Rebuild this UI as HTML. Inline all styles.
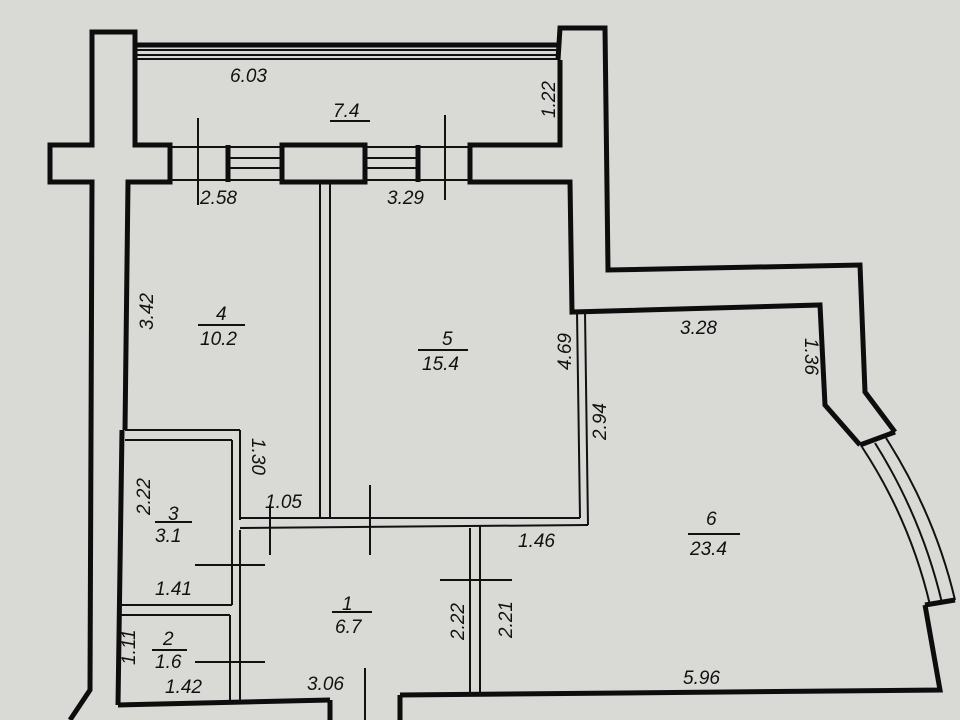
<!DOCTYPE html>
<html><head><meta charset="utf-8"><style>
html,body{margin:0;padding:0;background:#d9d9d6;}
svg{display:block}
text{font-family:"Liberation Sans",sans-serif;font-style:italic;fill:#111;font-size:19px}
</style></head><body>
<svg width="960" height="720" viewBox="0 0 960 720">
<rect width="960" height="720" fill="#d9d9d6"/>
<g fill="none" stroke="#0d0d0d" stroke-width="5" stroke-linejoin="miter">
<polyline points="70,720 90,690 92,182 50,182 50,145 92,145 92,32 135,32 135,145 170,145 170,182 128,182 125,430"/>
<line x1="122" y1="430" x2="118" y2="705"/>
<line x1="135" y1="45" x2="558" y2="45"/>
<polyline points="558,60 560,28 605,28 608,270 860,265 865,392 895,432"/>
<polyline points="560,60 560,145 470,145 470,182 570,182 572,312 820,305 825,405 860,445"/>
<rect x="282" y="145" width="83" height="37"/>
<polyline points="925,605 940,690 400,695"/>
<line x1="860" y1="445" x2="895" y2="432"/>
<line x1="925" y1="605" x2="955" y2="600"/>
<polyline points="118,705 330,700"/>
<line x1="330" y1="700" x2="330" y2="720"/>
<line x1="400" y1="695" x2="400" y2="720"/>
<line x1="228" y1="145" x2="228" y2="182" />
<line x1="418" y1="145" x2="418" y2="182"/>
</g>
<g fill="none" stroke="#111" stroke-width="2">
<line x1="135" y1="50" x2="558" y2="50"/>
<line x1="135" y1="55" x2="558" y2="55"/>
<line x1="135" y1="59" x2="558" y2="59"/>
<line x1="170" y1="147" x2="282" y2="147"/>
<line x1="170" y1="180" x2="282" y2="180"/>
<line x1="228" y1="158" x2="282" y2="158"/>
<line x1="228" y1="168" x2="282" y2="168"/>
<line x1="365" y1="147" x2="470" y2="147"/>
<line x1="365" y1="180" x2="470" y2="180"/>
<line x1="365" y1="158" x2="418" y2="158"/>
<line x1="365" y1="168" x2="418" y2="168"/>
<line x1="198" y1="118" x2="198" y2="205"/>
<line x1="445" y1="115" x2="445" y2="200"/>
<line x1="320" y1="182" x2="320" y2="518"/>
<line x1="330" y1="182" x2="330" y2="518"/>
<line x1="577" y1="312" x2="580" y2="518"/>
<line x1="585" y1="312" x2="588" y2="525"/>
<line x1="240" y1="518" x2="580" y2="518"/>
<line x1="240" y1="528" x2="588" y2="525"/>
<line x1="125" y1="430" x2="240" y2="430"/>
<line x1="125" y1="440" x2="232" y2="440"/>
<line x1="232" y1="440" x2="232" y2="605"/>
<line x1="240" y1="430" x2="240" y2="520"/>
<line x1="240" y1="530" x2="240" y2="700"/>
<line x1="120" y1="605" x2="232" y2="605"/>
<line x1="120" y1="615" x2="230" y2="615"/>
<line x1="230" y1="615" x2="230" y2="700"/>
<line x1="470" y1="528" x2="470" y2="695"/>
<line x1="480" y1="525" x2="480" y2="695"/>
<line x1="270" y1="505" x2="270" y2="555"/>
<line x1="370" y1="485" x2="370" y2="555"/>
<line x1="195" y1="565" x2="265" y2="565"/>
<line x1="195" y1="662" x2="265" y2="662"/>
<line x1="440" y1="580" x2="512" y2="580"/>
<line x1="365" y1="668" x2="365" y2="720"/>
<path d="M862,447 Q910,520 930,605"/>
<path d="M875,443 Q922,518 942,603"/>
<path d="M886,438 Q935,515 955,600"/>
</g>
<g>
<text x="230" y="82">6.03</text>
<text x="333" y="117">7.4</text>
<line x1="330" y1="121" x2="370" y2="121" stroke="#111" stroke-width="2"/>
<text x="200" y="204">2.58</text>
<text x="387" y="204">3.29</text>
<text transform="translate(555,118) rotate(-90)">1.22</text>
<text transform="translate(153,330) rotate(-90)">3.42</text>
<text x="216" y="320">4</text><line x1="198" y1="325" x2="245" y2="325" stroke="#111" stroke-width="2"/>
<text x="200" y="345">10.2</text>
<text x="442" y="345">5</text><line x1="418" y1="350" x2="468" y2="350" stroke="#111" stroke-width="2"/>
<text x="422" y="370">15.4</text>
<text transform="translate(571,370) rotate(-90)">4.69</text>
<text x="680" y="334">3.28</text>
<text transform="translate(805,338) rotate(90)">1.36</text>
<text transform="translate(606,440) rotate(-90)">2.94</text>
<text transform="translate(252,438) rotate(90)">1.30</text>
<text transform="translate(150,515) rotate(-90)">2.22</text>
<text x="265" y="508">1.05</text>
<text x="168" y="520">3</text><line x1="155" y1="522" x2="192" y2="522" stroke="#111" stroke-width="2"/>
<text x="155" y="542">3.1</text>
<text x="155" y="595">1.41</text>
<text x="518" y="547">1.46</text>
<text x="706" y="525">6</text><line x1="688" y1="534" x2="740" y2="534" stroke="#111" stroke-width="2"/>
<text x="690" y="555">23.4</text>
<text x="342" y="610">1</text><line x1="332" y1="612" x2="372" y2="612" stroke="#111" stroke-width="2"/>
<text x="335" y="633">6.7</text>
<text transform="translate(464,640) rotate(-90)">2.22</text>
<text transform="translate(512,638) rotate(-90)">2.21</text>
<text transform="translate(135,665) rotate(-90)">1.11</text>
<text x="163" y="645">2</text><line x1="152" y1="650" x2="187" y2="650" stroke="#111" stroke-width="2"/>
<text x="155" y="668">1.6</text>
<text x="165" y="693">1.42</text>
<text x="307" y="690">3.06</text>
<text x="683" y="684">5.96</text>
</g>
</svg>
</body></html>
